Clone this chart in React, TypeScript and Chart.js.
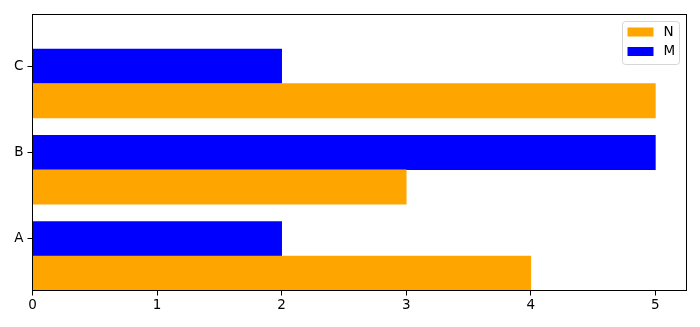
import React, { useEffect, useRef } from 'react';
import { Chart, registerables } from 'chart.js';

Chart.register(...registerables);

const categories = ['A', 'B', 'C'];
const nValues = [4, 3, 5];
const mValues = [2, 5, 2];
const xTicks = [0, 1, 2, 3, 4, 5];
const seriesLabels = ['N', 'M'];
const seriesColors = ['orange', 'blue'];

const BAR_H = 0.4;
const FONT_FAMILY = 'DejaVu Sans';
const FONT_SIZE = 13.5;

export default function App() {
  const ref = useRef<HTMLCanvasElement>(null);

  useEffect(() => {
    document.body.style.margin = '0';
    const canvas = ref.current;
    if (!canvas) return;

    const framePlugin = {
      id: 'frame',
      afterDraw(chart: any) {
        const { ctx, chartArea: a } = chart;
        ctx.save();
        ctx.strokeStyle = '#000';
        ctx.lineWidth = 1;
        ctx.strokeRect(a.left, a.top, a.right - a.left, a.bottom - a.top);
        ctx.restore();
      },
    };

    const legendPlugin = {
      id: 'mplLegend',
      afterDraw(chart: any) {
        const { ctx, chartArea: a } = chart;
        const w = 57;
        const h = 43;
        const x = a.right - 7 - w;
        const y = a.top + 7;
        ctx.save();
        ctx.beginPath();
        const r = 3;
        ctx.moveTo(x + r, y);
        ctx.lineTo(x + w - r, y);
        ctx.quadraticCurveTo(x + w, y, x + w, y + r);
        ctx.lineTo(x + w, y + h - r);
        ctx.quadraticCurveTo(x + w, y + h, x + w - r, y + h);
        ctx.lineTo(x + r, y + h);
        ctx.quadraticCurveTo(x, y + h, x, y + h - r);
        ctx.lineTo(x, y + r);
        ctx.quadraticCurveTo(x, y, x + r, y);
        ctx.closePath();
        ctx.fillStyle = 'rgba(255,255,255,0.8)';
        ctx.fill();
        ctx.strokeStyle = 'rgba(204,204,204,0.8)';
        ctx.lineWidth = 1;
        ctx.stroke();
        ctx.font = `${FONT_SIZE}px "${FONT_FAMILY}"`;
        ctx.textBaseline = 'middle';
        ctx.textAlign = 'left';
        chart.data.datasets.forEach((ds: any, i: number) => {
          const cy = y + 10.5 + i * 19.5;
          ctx.fillStyle = ds.backgroundColor;
          ctx.fillRect(x + 5, cy - 4.5, 26, 9);
          ctx.fillStyle = '#000';
          ctx.fillText(ds.label, x + 41, cy);
        });
        ctx.restore();
      },
    };

    const chart = new Chart(canvas, {
      type: 'bar',
      data: {
        datasets: [
          {
            label: seriesLabels[0],
            data: categories.map((_, i) => ({ x: nValues[i], y: i - BAR_H })),
            backgroundColor: seriesColors[0],
            borderWidth: 0,
            grouped: false,
            barPercentage: 1,
            categoryPercentage: 1,
          },
          {
            label: seriesLabels[1],
            data: categories.map((_, i) => ({ x: mValues[i], y: i })),
            backgroundColor: seriesColors[1],
            borderWidth: 0,
            grouped: false,
            barPercentage: 1,
            categoryPercentage: 1,
          },
        ],
      } as any,
      options: {
        indexAxis: 'y',
        animation: false,
        responsive: true,
        maintainAspectRatio: false,
        layout: { padding: { top: 14.5, right: 13.5, left: 0, bottom: 0 } },
        plugins: {
          legend: { display: false },
          tooltip: { enabled: false },
        },
        scales: {
          x: {
            type: 'linear',
            position: 'bottom',
            min: 0,
            max: 5.25,
            offset: false,
            afterBuildTicks: (s: any) => {
              s.ticks = xTicks.map((v) => ({ value: v }));
            },
            afterFit: (s: any) => {
              s.height = 36.5;
            },
            border: { display: false },
            grid: {
              offset: false,
              drawOnChartArea: false,
              drawTicks: true,
              tickLength: 5,
              color: '#000',
              lineWidth: 1,
            },
            ticks: {
              color: '#000',
              padding: 2,
              maxRotation: 0,
              font: { family: FONT_FAMILY, size: FONT_SIZE },
              callback: (v: any) => String(v),
            },
          },
          y: {
            type: 'linear',
            position: 'left',
            min: -0.6,
            max: 2.6,
            offset: false,
            afterBuildTicks: (s: any) => {
              s.ticks = categories.map((_, i) => ({ value: i }));
            },
            afterFit: (s: any) => {
              s.width = 32.5;
            },
            border: { display: false },
            grid: {
              offset: false,
              drawOnChartArea: false,
              drawTicks: true,
              tickLength: 5,
              color: '#000',
              lineWidth: 1,
            },
            ticks: {
              color: '#000',
              padding: 4,
              font: { family: FONT_FAMILY, size: FONT_SIZE },
              callback: (v: any) => categories[Math.round(Number(v))] ?? '',
            },
          },
        },
      } as any,
      plugins: [framePlugin, legendPlugin],
    });

    return () => chart.destroy();
  }, []);

  return (
    <div style={{ position: 'absolute', left: 0, top: 0, width: 700, height: 327 }}>
      <canvas ref={ref} />
    </div>
  );
}
